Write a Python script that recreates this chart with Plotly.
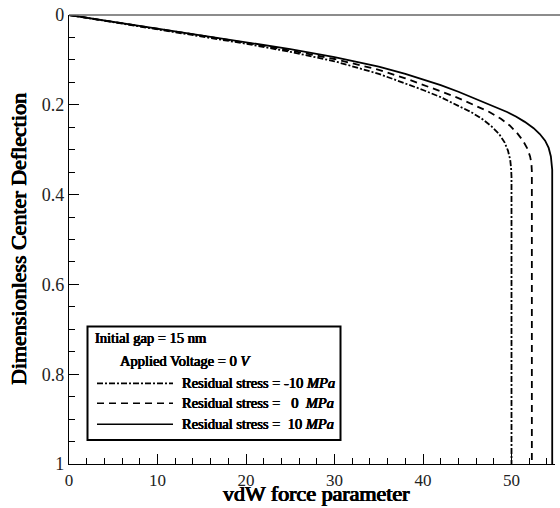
import plotly.graph_objects as go

# vdW force parameter vs. dimensionless center deflection for three residual stresses
x_neg10 = [0, 5, 10, 15, 20, 25, 30, 35, 38, 40, 42, 44, 45.5, 46.8, 47.8, 48.6, 49.2, 49.6,
           49.85, 49.95, 50.0, 50.0]
y_neg10 = [0, 0.016, 0.032, 0.048, 0.064, 0.082, 0.103, 0.131, 0.152, 0.167, 0.183, 0.202,
           0.217, 0.233, 0.249, 0.265, 0.283, 0.302, 0.322, 0.340, 0.360, 1.0]

x_zero = [0, 5, 10, 15, 20, 25, 30, 35, 38, 40, 42, 44, 46, 47.5, 48.8, 49.8, 50.6, 51.3,
          51.8, 52.1, 52.25, 52.3, 52.3]
y_zero = [0, 0.015, 0.031, 0.046, 0.062, 0.079, 0.098, 0.122, 0.141, 0.155, 0.170, 0.185,
          0.202, 0.216, 0.231, 0.246, 0.262, 0.280, 0.298, 0.315, 0.330, 0.348, 1.0]

x_pos10 = [0, 5, 10, 15, 20, 25, 30, 35, 38, 40, 42, 44, 46, 48, 49.5, 50.5, 51.5, 52.5,
           53.2, 53.8, 54.2, 54.45, 54.6, 54.6]
y_pos10 = [0, 0.015, 0.030, 0.045, 0.060, 0.076, 0.094, 0.115, 0.131, 0.143, 0.156, 0.171,
           0.187, 0.203, 0.216, 0.226, 0.238, 0.252, 0.265, 0.280, 0.296, 0.315, 0.345, 1.0]

x_ticks = [0, 10, 20, 30, 40, 50]
y_ticks = [0, 0.2, 0.4, 0.6, 0.8, 1.0]
y_tick_text = ["0", "0.2", "0.4", "0.6", "0.8", "1"]

series = [
    ("Residual stress = -10 MPa", x_neg10, y_neg10, "6px,2px,2px,2px"),
    ("Residual stress = 0 MPa", x_zero, y_zero, "7px,5px"),
    ("Residual stress = 10 MPa", x_pos10, y_pos10, "solid"),
]

W, H = 560, 508
ML, MR, MT, MB = 69, 5, 13, 44
PW, PH = W - ML - MR, H - MT - MB
PX_PER_UNIT = 8.85

SERIF = "Liberation Serif"


def heavy(px):
    # thickened serif strokes for the bold captions
    return f"{px}px 0 0 #000, -{px}px 0 0 #000, 0 0.25px 0 #000"


def font(size, weight_px=0.0, color="black"):
    f = dict(family=SERIF, size=size, color=color)
    if weight_px:
        f["shadow"] = heavy(weight_px)
    return f


fig = go.Figure()
for name, xs, ys, dash in series:
    fig.add_trace(go.Scatter(
        x=xs, y=ys, mode="lines", name=name, showlegend=False,
        line=dict(color="black", width=1.8, dash=dash, shape="linear"),
    ))


def px_x(p):
    return (p - ML) / PW


def px_y(p):
    return (H - MB - p) / PH


shapes = [
    # top frame line, running to the page edge
    dict(type="line", xref="paper", yref="paper", x0=0, x1=(W - ML) / PW, y0=1, y1=1,
         line=dict(color="#666", width=1.3)),
    # legend frame
    dict(type="rect", xref="paper", yref="paper",
         x0=px_x(87.5), x1=px_x(340.5), y0=px_y(440), y1=px_y(326),
         line=dict(color="black", width=2), fillcolor="white", layer="above"),
]
annotations = []

rows = [
    (383, "6px,2px,2px,2px", "Residual stress = -10 <i>MPa</i>"),
    (403, "7px,5px", "Residual stress =\u00a0\u00a0 0\u00a0 <i>MPa</i>"),
    (424, "solid", "Residual stress =\u00a0 10 <i>MPa</i>"),
]
for ypx, dash, txt in rows:
    shapes.append(dict(type="line", xref="paper", yref="paper",
                       x0=px_x(97), x1=px_x(173), y0=px_y(ypx), y1=px_y(ypx),
                       line=dict(color="black", width=1.6, dash=dash), layer="above"))
    annotations.append(dict(xref="paper", yref="paper", x=px_x(180), y=px_y(ypx),
                            xanchor="left", yanchor="middle", showarrow=False, text=txt,
                            font=font(14.5, 0.4)))

annotations.append(dict(xref="paper", yref="paper", x=px_x(93), y=px_y(337),
                        xanchor="left", yanchor="middle", showarrow=False,
                        text="Initial gap = 15 nm", font=font(14.5, 0.4)))
annotations.append(dict(xref="paper", yref="paper", x=px_x(118), y=px_y(361),
                        xanchor="left", yanchor="middle", showarrow=False,
                        text="Applied Voltage = 0 <i>V</i>", font=font(14.5, 0.4)))

# axis titles
annotations.append(dict(xref="paper", yref="paper", x=px_x(316), y=px_y(494),
                        xanchor="center", yanchor="middle", showarrow=False,
                        text="vdW force parameter", font=font(22, 0.6)))
annotations.append(dict(xref="paper", yref="paper", x=px_x(18), y=px_y(238),
                        xanchor="center", yanchor="middle", showarrow=False, textangle=-90,
                        text="Dimensionless Center Deflection", font=font(22, 0.6)))

fig.update_layout(
    width=W, height=H,
    margin=dict(l=ML, r=MR, t=MT, b=MB, pad=0),
    paper_bgcolor="white", plot_bgcolor="white",
    shapes=shapes, annotations=annotations,
    showlegend=False,
    xaxis=dict(
        range=[0, PW / PX_PER_UNIT], tickvals=x_ticks, ticktext=[str(v) for v in x_ticks],
        ticks="inside", ticklen=10, tickwidth=1.2, tickcolor="black",
        minor=dict(dtick=2, tick0=0, ticks="inside", ticklen=6, tickwidth=1.2, tickcolor="black"),
        showline=True, linecolor="black", linewidth=1.3, mirror=False,
        showgrid=False, zeroline=False,
        tickfont=font(17, color="#222"),
    ),
    yaxis=dict(
        range=[1, 0], tickvals=y_ticks, ticktext=y_tick_text,
        ticks="inside", ticklen=10, tickwidth=1.2, tickcolor="black",
        minor=dict(dtick=0.05, tick0=0, ticks="inside", ticklen=6, tickwidth=1.2, tickcolor="black"),
        showline=True, linecolor="black", linewidth=1.3,
        showgrid=False, zeroline=False,
        tickfont=font(18, color="#222"),
    ),
)

fig.write_html(
    "out.html",
    post_script="document.body.style.margin='0';document.body.style.overflow='hidden';",
)
